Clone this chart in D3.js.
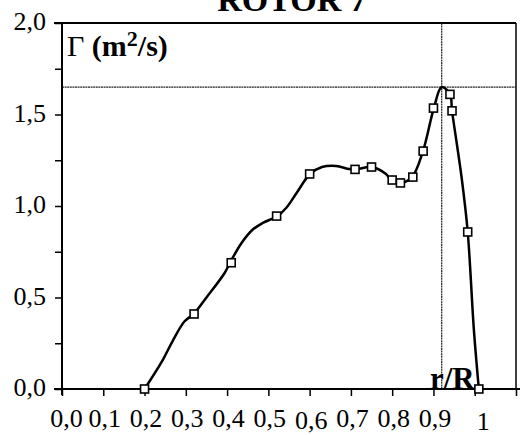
<!DOCTYPE html>
<html>
<head>
<meta charset="utf-8">
<script src="https://cdn.jsdelivr.net/npm/d3@7"></script>
<style>
  body { margin: 0; background: #fff; }
  svg { display: block; font-family: "Liberation Serif", "DejaVu Serif", serif; }
</style>
</head>
<body>
<script>
// values (ROTOR 7, circulation vs r/R)
const xTickValues = [0, 0.1, 0.2, 0.3, 0.4, 0.5, 0.6, 0.7, 0.8, 0.9, 1.0];
const xTickLabels = ["0,0", "0,1", "0,2", "0,3", "0,4", "0,5", "0,6", "0,7", "0,8", "0,9", "1"];
const yTickValues = [0, 0.25, 0.5, 0.75, 1.0, 1.25, 1.5, 1.75, 2.0];
const yTickLabels = ["0,0", "", "0,5", "", "1,0", "", "1,5", "", "2,0"];

// measured points (squares)
const markerR = [0.2, 0.32, 0.41, 0.52, 0.6, 0.71, 0.75, 0.8, 0.82, 0.85, 0.875, 0.9, 0.94, 0.945, 0.983, 1.01];
const markerG = [0.0, 0.41, 0.69, 0.945, 1.175, 1.2, 1.213, 1.142, 1.126, 1.158, 1.30, 1.535, 1.61, 1.52, 0.858, 0.0];

// traced curve through the points
const curveR = [0.2, 0.244, 0.268, 0.297, 0.319, 0.35, 0.394, 0.408, 0.435, 0.461, 0.486, 0.522, 0.543, 0.57,
                0.601, 0.63, 0.664, 0.696, 0.713, 0.749, 0.785, 0.797, 0.821, 0.848, 0.874, 0.901, 0.92,
                0.94, 0.945, 0.969, 0.983, 0.998, 1.01];
const curveG = [0.0, 0.158, 0.262, 0.37, 0.41, 0.5, 0.634, 0.694, 0.798, 0.869, 0.907, 0.945, 0.989, 1.077,
                1.175, 1.213, 1.219, 1.202, 1.2, 1.213, 1.175, 1.142, 1.126, 1.158, 1.295, 1.535, 1.65,
                1.612, 1.52, 1.142, 0.858, 0.322, 0.0];

// crosshair at the peak
const peakR = 0.92;
const peakG = 1.65;

const margin = {top: 23, right: 11, bottom: 46, left: 62},
    width = 527 - margin.left - margin.right,
    height = 435 - margin.top - margin.bottom;

const svg = d3.select("body")
    .append("svg")
    .attr("width", 527)
    .attr("height", 435);

const g = svg.append("g")
    .attr("transform", "translate(" + margin.left + "," + margin.top + ")");

const x = d3.scaleLinear().domain([0, 1.1]).range([0, width]);
const y = d3.scaleLinear().domain([0, 2.0]).range([height, 0]);

// frame: top and right
g.append("line")
    .attr("x1", -8).attr("x2", width)
    .attr("y1", 0).attr("y2", 0)
    .attr("stroke", "#000").attr("stroke-width", 2);
g.append("line")
    .attr("x1", width).attr("x2", width)
    .attr("y1", 0).attr("y2", height)
    .attr("stroke", "#000").attr("stroke-width", 1.5);

// crosshair lines
g.append("line")
    .attr("x1", 0).attr("x2", width)
    .attr("y1", y(peakG)).attr("y2", y(peakG))
    .attr("stroke", "#222").attr("stroke-width", 1.2)
    .attr("stroke-dasharray", "2,0.6");
g.append("line")
    .attr("x1", x(peakR)).attr("x2", x(peakR))
    .attr("y1", 0).attr("y2", height)
    .attr("stroke", "#222").attr("stroke-width", 1.2)
    .attr("stroke-dasharray", "2,0.6");

// axes
const xAxis = g.append("g")
    .attr("transform", "translate(0," + height + ")")
    .call(d3.axisBottom(x)
        .tickValues(xTickValues.concat([1.1]))
        .tickSize(7)
        .tickSizeOuter(0)
        .tickFormat(function(d, i) { return i < xTickLabels.length ? xTickLabels[i] : ""; }));
xAxis.select(".domain").attr("stroke-width", 2).attr("d", "M-8,0H" + (width + 4));
xAxis.selectAll(".tick line").attr("stroke-width", 1.5);
xAxis.selectAll(".tick text")
    .attr("font-family", "Liberation Serif, serif")
    .attr("font-size", 26)
    .attr("fill", "#000")
    .attr("dy", function(d, i) { return i === 10 ? "1.2em" : (i === 6 ? "1.17em" : "1.07em"); })
    .attr("dx", function(d, i) { return i === 10 ? 8 : (i === 0 ? 4 : 1); });

const yAxis = g.append("g")
    .call(d3.axisLeft(y)
        .tickValues(yTickValues)
        .tickSize(7)
        .tickSizeOuter(0)
        .tickFormat(function(d, i) { return yTickLabels[i]; }));
yAxis.select(".domain").attr("stroke-width", 2).attr("d", "M0,0V" + (height + 6));
yAxis.selectAll(".tick line").attr("stroke-width", 1.5);
yAxis.selectAll(".tick text")
    .attr("font-family", "Liberation Serif, serif")
    .attr("font-size", 26)
    .attr("fill", "#000")
    .attr("x", -16)
    .attr("dy", "0.25em");

// curve
const line = d3.line()
    .x(function(d) { return x(d[0]); })
    .y(function(d) { return y(d[1]); })
    .curve(d3.curveCatmullRom.alpha(0.5));
g.append("path")
    .datum(d3.zip(curveR, curveG))
    .attr("fill", "none")
    .attr("stroke", "#000")
    .attr("stroke-width", 2.5)
    .attr("stroke-linejoin", "round")
    .attr("d", line);

// markers
g.selectAll("rect.pt")
    .data(d3.zip(markerR, markerG))
    .join("rect")
    .attr("class", "pt")
    .attr("x", function(d) { return x(d[0]) - 4; })
    .attr("y", function(d) { return y(d[1]) - 4; })
    .attr("width", 8)
    .attr("height", 8)
    .attr("fill", "#fff")
    .attr("stroke", "#000")
    .attr("stroke-width", 1.6);

// title, cut off at the top as in the scan
svg.append("text")
    .attr("x", 292).attr("y", 11)
    .attr("text-anchor", "middle")
    .attr("font-size", 34)
    .attr("font-weight", "bold")
    .text("ROTOR 7");

// y label
const yl = svg.append("text")
    .attr("x", 67).attr("y", 56)
    .attr("font-size", 30);
yl.append("tspan").text("Γ ");
yl.append("tspan").attr("font-weight", "bold").text("(m");
yl.append("tspan").attr("font-weight", "bold").attr("font-size", 22).attr("dy", -10).text("2");
yl.append("tspan").attr("font-weight", "bold").attr("dy", 10).text("/s)");

// x label
svg.append("text")
    .attr("x", 430).attr("y", 389)
    .attr("font-size", 31)
    .attr("font-weight", "bold")
    .text("r/R");
</script>
</body>
</html>
